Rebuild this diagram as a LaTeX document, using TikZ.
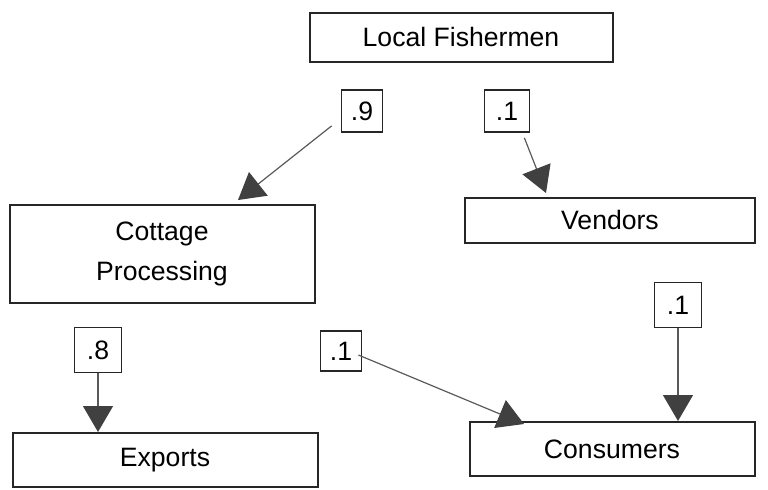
\documentclass[tikz,border=0pt]{standalone}
\usepackage{fontspec}
\setmainfont{Liberation Sans}
\usepackage{tikz}
\usetikzlibrary{positioning,calc,arrows.meta}
\tikzset{
	stage/.style={draw=black!85, line width=1pt, rectangle, inner sep=0pt, align=center,
		font=\fontsize{13.3}{20}\selectfont},
	share/.style={draw=black!85, line width=0.9pt, rectangle, inner sep=0pt,
		font=\fontsize{13.3}{16}\selectfont},
	flow/.style={draw=black!65, line width=0.6pt,
		-{Triangle[length=13pt,width=15pt,color=black!75]}}
}

\begin{document}
\begin{tikzpicture}[x=0.5pt,y=-0.5pt]
		\useasboundingbox (0,0) rectangle (768,489);
		\node[stage, minimum width=151.5pt, minimum height=24.5pt] (fish) at (461,37) {Local Fishermen};
		\node[stage, minimum width=152.5pt, minimum height=49pt] (cottage) at (162,254) {Cottage\\Processing};
		\node[stage, minimum width=145pt, minimum height=22.5pt] (vendors) at (610,220) {Vendors};
		\node[stage, minimum width=152.5pt, minimum height=27pt] (exports) at (165,460) {\raisebox{-4pt}{Exports}};
		\node[stage, minimum width=142.5pt, minimum height=27pt] (consumers) at (612,449) {Consumers};
		\node[share, minimum width=20.5pt, minimum height=21pt] (p9) at (362,111) {.9};
		\node[share, minimum width=22.5pt, minimum height=21pt] (p1a) at (507,111) {.1};
		\node[share, minimum width=23.5pt, minimum height=22.5pt] (p8) at (98,350) {.8};
		\node[share, minimum width=20.5pt, minimum height=20pt] (p1b) at (341,351) {.1};
		\node[share, minimum width=23.5pt, minimum height=22.5pt] (p1c) at (678,305) {.1};
		\coordinate (cin) at (238,200);
		\coordinate (vin) at (546,193);
		\coordinate (kin) at (524,424);
		\draw[flow] ($(p9.south west)+(-9,-7)$) -- (cin);
		\draw[flow] ($(p1a.south east)+(-6,5)$) -- (vin);
		\draw[flow] (p8.south) -- (p8.south |- exports.north);
		\draw[flow] ($(p1b.east)+(-4,4)$) -- (kin);
		\draw[flow] (p1c.south) -- (p1c.south |- consumers.north);
\end{tikzpicture}
\end{document}
